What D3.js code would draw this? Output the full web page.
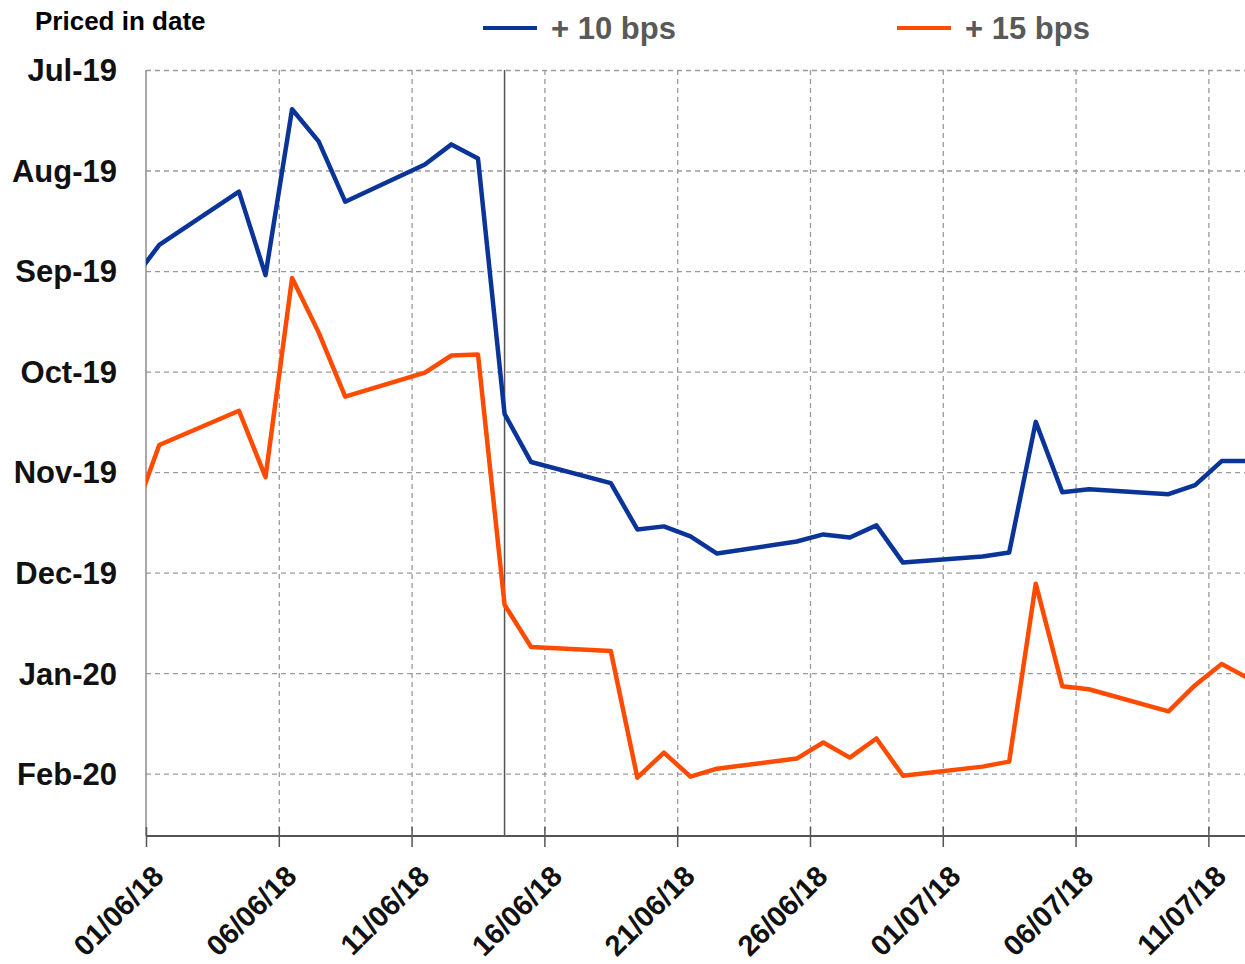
<!DOCTYPE html>
<html>
<head>
	<meta charset="utf-8">
	<title>priced in date with d3</title>
	<style>
		body { margin: 0; background: #fff; }
		svg { display: block; font-family: "Liberation Sans", Arial, sans-serif; }
	</style>
</head>
<body>
<div class="svg-priced"></div>
<script src="https://cdn.jsdelivr.net/npm/d3@7"></script>
<script>
	// observation dates (first and last are partly cut off by the plot edge)
	const dates = [
		"31/05/18", "01/06/18", "04/06/18", "05/06/18", "06/06/18", "07/06/18", "08/06/18",
		"11/06/18", "12/06/18", "13/06/18", "14/06/18", "15/06/18",
		"18/06/18", "19/06/18", "20/06/18", "21/06/18", "22/06/18",
		"25/06/18", "26/06/18", "27/06/18", "28/06/18", "29/06/18",
		"02/07/18", "03/07/18", "04/07/18", "05/07/18", "06/07/18",
		"09/07/18", "10/07/18", "11/07/18", "12/07/18"
	];

	// priced in date, in months after Jul-19
	const bps10 = [
		2.09, 1.74, 1.21, 2.04, 0.39, 0.71, 1.31,
		0.94, 0.74, 0.88, 3.42, 3.90,
		4.11, 4.57, 4.54, 4.64, 4.81,
		4.69, 4.62, 4.65, 4.53, 4.90,
		4.84, 4.80, 3.50, 4.20, 4.17,
		4.22, 4.13, 3.89, 3.89
	];
	const bps15 = [
		4.46, 3.73, 3.39, 4.05, 2.07, 2.61, 3.25,
		3.01, 2.84, 2.83, 5.32, 5.74,
		5.78, 7.04, 6.79, 7.03, 6.95,
		6.85, 6.69, 6.84, 6.65, 7.02,
		6.93, 6.88, 5.11, 6.13, 6.16,
		6.38, 6.12, 5.91, 6.05
	];

	const seriesNames = ["+ 10 bps", "+ 15 bps"];
	const monthLabels = ["Jul-19", "Aug-19", "Sep-19", "Oct-19", "Nov-19", "Dec-19", "Jan-20", "Feb-20"];
	const dateTicks = ["01/06/18", "06/06/18", "11/06/18", "16/06/18", "21/06/18", "26/06/18", "01/07/18", "06/07/18", "11/07/18"];
	const eventDate = "14/06/18";

	window.onload = function(){
		showPriced();
	}

	function showPriced(){
		let parse = d3.timeParse("%d/%m/%y");
		let noon = (d) => d3.timeHour.offset(parse(d), 12);

		// canvas setting
		let svg_width = 1245;
		let svg_height = 964;
		let padding = {"top": 70, "right": 0, "bottom": 128, "left": 146};
		let width = svg_width - padding.left - padding.right;
		let height = svg_height - padding.top - padding.bottom;

		let colors = ["#0a3497", "#ff4b00"];

		// scale
		let scaleX = d3.scaleTime()
			.domain([parse("01/06/18"), parse("13/07/18")])
			.range([0, 1115.5]);
		let scaleY = d3.scaleLinear()
			.domain([0, 7.62])
			.range([0, height]);

		let container = d3.select(".svg-priced").append("svg")
			.attr("width", svg_width)
			.attr("height", svg_height);

		let plot = container.append("g")
			.attr("transform", "translate(" + padding.left + ", " + padding.top + ")");

		container.append("defs").append("clipPath")
			.attr("id", "plot-clip")
			.append("rect")
			.attr("width", width)
			.attr("height", height);

		// grid
		plot.append("g")
			.attr("class", "grid grid-y")
			.call(d3.axisLeft(scaleY)
				.tickValues(d3.range(monthLabels.length))
				.tickSize(-width)
				.tickFormat(""));
		plot.append("g")
			.attr("class", "grid grid-x")
			.call(d3.axisBottom(scaleX)
				.tickValues(dateTicks.slice(1).map(parse))
				.tickSize(height)
				.tickFormat(""));
		plot.selectAll(".grid .domain").remove();
		plot.selectAll(".grid line")
			.attr("stroke", "#9a9a9a")
			.attr("stroke-width", 1.3)
			.attr("stroke-dasharray", "5,4");

		// left border
		plot.append("line")
			.attr("x1", 0).attr("x2", 0)
			.attr("y1", 0).attr("y2", height)
			.attr("stroke", "#8c8c8c")
			.attr("stroke-width", 1.5);

		// event line
		plot.append("line")
			.attr("x1", scaleX(noon(eventDate))).attr("x2", scaleX(noon(eventDate)))
			.attr("y1", 0).attr("y2", height)
			.attr("stroke", "#555")
			.attr("stroke-width", 1.5);

		// y labels
		let axisY = plot.append("g")
			.attr("class", "axis axis-y")
			.call(d3.axisLeft(scaleY)
				.tickValues(d3.range(monthLabels.length))
				.tickSize(0)
				.tickPadding(29)
				.tickFormat((d) => monthLabels[d]));
		axisY.select(".domain").remove();
		axisY.selectAll("text")
			.attr("dy", "0.35em")
			.attr("fill", "#111")
			.style("font-size", "31px")
			.style("font-weight", "bold");

		// x axis
		let axisX = plot.append("g")
			.attr("class", "axis axis-x")
			.attr("transform", "translate(0, " + height + ")")
			.call(d3.axisBottom(scaleX)
				.tickValues(dateTicks.map(parse))
				.tickSize(11)
				.tickFormat(d3.timeFormat("%d/%m/%y")));
		axisX.select(".domain")
			.attr("d", "M0,0H" + width)
			.attr("stroke", "#555")
			.attr("stroke-width", 2);
		axisX.selectAll(".tick line")
			.attr("y1", -9)
			.attr("stroke", "#555")
			.attr("stroke-width", 1.5);
		axisX.selectAll("text")
			.attr("x", 0)
			.attr("y", 0)
			.attr("dy", 0)
			.attr("text-anchor", "end")
			.attr("transform", "translate(19, 42) rotate(-45)")
			.attr("fill", "#111")
			.style("font-size", "29px")
			.style("font-weight", "bold");

		// lines
		let line = d3.line()
			.x((d) => scaleX(noon(d[0])))
			.y((d) => scaleY(d[1]));
		let series = [bps10, bps15];

		plot.append("g")
			.attr("clip-path", "url(#plot-clip)")
			.selectAll("path")
			.data(series)
			.enter()
			.append("path")
			.attr("d", (values) => line(dates.map((d, i) => [d, values[i]])))
			.attr("fill", "none")
			.attr("stroke", (values, i) => colors[i])
			.attr("stroke-width", 4.5)
			.attr("stroke-linejoin", "round");

		// title
		container.append("text")
			.attr("x", 35)
			.attr("y", 30)
			.attr("fill", "#000")
			.style("font-size", "26px")
			.style("font-weight", "bold")
			.text("Priced in date");

		// legend
		let legendX = [483, 897];
		let legend = container.selectAll(".legend")
			.data(seriesNames)
			.enter()
			.append("g")
			.attr("class", "legend")
			.attr("transform", (d, i) => "translate(" + legendX[i] + ", 28)");
		legend.append("line")
			.attr("x1", 0).attr("x2", 54)
			.attr("stroke", (d, i) => colors[i])
			.attr("stroke-width", 4);
		legend.append("text")
			.attr("x", 68)
			.attr("y", 11)
			.attr("fill", "#595959")
			.style("font-size", "31px")
			.style("font-weight", "bold")
			.text((d) => d);
	}
</script>
</body>
</html>
